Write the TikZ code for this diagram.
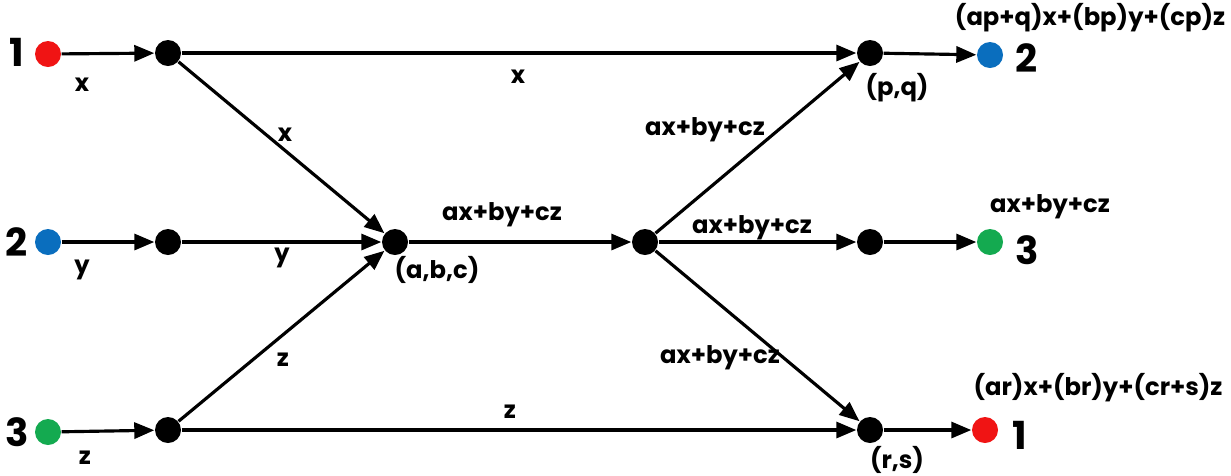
\documentclass[tikz,border=0pt]{standalone}
\usepackage{fontspec}
\setmainfont{Poppins}
\usetikzlibrary{arrows.meta}
\definecolor{dotred}{RGB}{240,20,20}
\definecolor{dotblue}{RGB}{10,110,190}
\definecolor{dotgreen}{RGB}{20,170,80}
\tikzset{
  dot/.style={circle, fill=#1, inner sep=0pt, minimum size=0.26cm},
  dot/.default=black,
  flow/.style={line width=0.9pt, -{Triangle[length=2mm,width=1.6mm]}},
  lab/.style={font=\fontsize{6.9}{8}\selectfont\bfseries, inner sep=0pt},
  num/.style={font=\fontsize{11}{13}\selectfont\bfseries, inner sep=0pt}
}
\begin{document}
\begin{tikzpicture}
\useasboundingbox (0,0) rectangle (12.31,4.75);
% sources
\node[dot=dotred] (s1) at (0.48,4.21) {};
\node[dot=dotblue] (s2) at (0.48,2.33) {};
\node[dot=dotgreen] (s3) at (0.48,0.43) {};
\node[num] (n1) at (0.17,4.23) {1};
\node[num] (n2) at (0.17,2.33) {2};
\node[num] (n3) at (0.17,0.43) {3};
% inner nodes
\node[dot] (a1) at (1.68,4.22) {};
\node[dot] (a2) at (1.68,2.33) {};
\node[dot] (a3) at (1.68,0.45) {};
\node[dot] (c) at (3.95,2.33) {};
\node[dot] (d) at (6.45,2.33) {};
\node[dot] (b1) at (8.70,4.22) {};
\node[dot] (b2) at (8.70,2.33) {};
\node[dot] (b3) at (8.70,0.45) {};
% sinks
\node[dot=dotblue] (t1) at (9.90,4.20) {};
\node[dot=dotgreen] (t2) at (9.90,2.33) {};
\node[dot=dotred] (t3) at (9.85,0.45) {};
\node[num] (m2) at (10.27,4.17) {2};
\node[num] (m3) at (10.27,2.25) {3};
\node[num] (m1) at (10.20,0.40) {1};
% edges
\draw[flow] (s1) -- (a1);
\draw[flow] (s2) -- (a2);
\draw[flow] (s3) -- (a3);
\draw[flow] (a1) -- (b1);
\draw[flow] (a1) -- (c);
\draw[flow] (a2) -- (c);
\draw[flow] (a3) -- (c);
\draw[flow] (a3) -- (b3);
\draw[flow] (c) -- (d);
\draw[flow] (d) -- (b1);
\draw[flow] (d) -- (b2);
\draw[flow] (d) -- (b3);
\draw[flow] (b1) -- (t1);
\draw[flow] (b2) -- (t2);
\draw[flow] (b3) -- (t3);
% labels
\node[lab] (lx) at (0.82,3.90) {x};
\node[lab] (ly) at (0.82,2.05) {y};
\node[lab] (lz) at (0.85,0.17) {z};
\node[lab] (ex1) at (5.18,3.98) {x};
\node[lab] (ex2) at (2.85,3.40) {x};
\node[lab] (ey) at (2.82,2.17) {y};
\node[lab] (ez1) at (2.83,1.15) {z};
\node[lab] (ez2) at (5.10,0.63) {z};
\node[lab] (ecd) at (5.02,2.60) {ax+by+cz};
\node[lab] (pc) at (4.37,2.05) {(a,b,c)};
\node[lab] (ed1) at (7.05,3.45) {ax+by+cz};
\node[lab] (ed2) at (7.52,2.47) {ax+by+cz};
\node[lab] (ed3) at (7.20,1.17) {ax+by+cz};
\node[lab] (pb1) at (8.97,3.87) {(p,q)};
\node[lab] (pb3) at (8.97,0.15) {(r,s)};
\node[lab] (o1) at (10.90,4.57) {(ap+q)x+(bp)y+(cp)z};
\node[lab] (o2) at (10.50,2.68) {ax+by+cz};
\node[lab] (o3) at (10.98,0.87) {(ar)x+(br)y+(cr+s)z};
\end{tikzpicture}
\end{document}
